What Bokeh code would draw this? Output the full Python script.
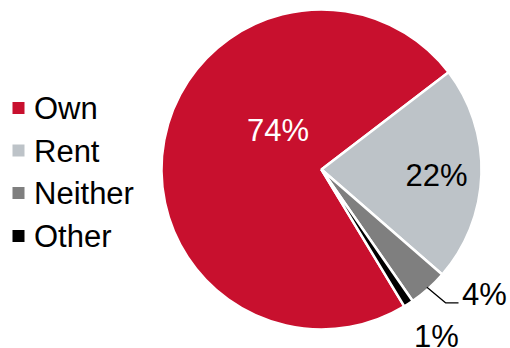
import math
from bokeh.plotting import figure
from bokeh.models import Range1d
from bokeh.core.properties import value
from bokeh.embed import file_html
from bokeh.resources import INLINE

# ---- data ----
categories = ["Own", "Rent", "Neither", "Other"]
shares = [74, 22, 4, 1]
pct_labels = ["74%", "22%", "4%", "1%"]

# ---- styles ----
colors = ["#C8102E", "#BDC3C8", "#7F7F7F", "#000000"]
label_colors = ["white", "black", "black", "black"]
FONT = "Liberation Sans"
FS = "31px"
W, H = 510, 348
TXT_DY = -11.5   # correction for the rendered baseline

def sx(x):
    return x

def sy(y):
    return H - y

p = figure(width=W, height=H, output_backend="svg", toolbar_location=None,
           x_range=Range1d(0, W), y_range=Range1d(0, H), min_border=0,
           outline_line_color=None, background_fill_color="white")
p.axis.visible = False
p.grid.visible = False

cx, cy, r = sx(321), sy(169), 160
first_boundary = 37.4  # degrees, where Rent begins (Own ends)
total = sum(shares)
spans = [s / total * 360 for s in shares]
start = first_boundary + spans[0]
starts, ends = [], []
a = start
for sp in spans:
    starts.append(math.radians(a))
    ends.append(math.radians(a - sp))
    a -= sp

p.wedge(x=[cx] * 4, y=[cy] * 4, radius=r, start_angle=starts, end_angle=ends,
        direction="clock", fill_color=colors, line_color="white", line_width=2.5)

# percentage labels (baseline positions)
lab_pos = [(277.5, 141.7), (436, 186.7), (484, 305), (436, 347)]
p.text(x=[sx(q[0]) for q in lab_pos], y=[sy(q[1] + TXT_DY) for q in lab_pos], text=pct_labels,
       text_color=label_colors, text_font=value(FONT), text_font_size=FS,
       text_align="center", text_baseline="alphabetic")

# leader line for Neither
mid = (starts[2] + ends[2]) / 2
x0 = cx + (r - 2) * math.cos(mid)
y0 = cy + (r - 2) * math.sin(mid)
p.line(x=[x0, sx(445), sx(458)], y=[y0, sy(302.3), sy(302.3)], line_color="black", line_width=1.3)

# legend
leg_sq_y = [107.5, 150, 192.5, 235.5]
p.scatter(x=[sx(18)] * 4, y=[sy(v) for v in leg_sq_y], marker="square", size=12,
          fill_color=colors, line_color=None)
p.text(x=[sx(33.5)] * 4, y=[sy(v + 12 + TXT_DY) for v in leg_sq_y], text=categories,
       text_color="black", text_font=value(FONT), text_font_size=FS,
       text_align="left", text_baseline="alphabetic")

open("out.html", "w").write(file_html(p, INLINE))
